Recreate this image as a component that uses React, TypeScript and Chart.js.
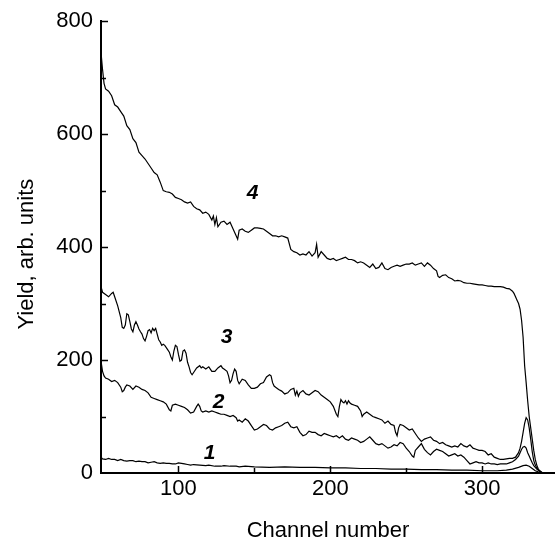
import React, { useEffect, useRef } from "react";
import { Chart, registerables } from "chart.js";

Chart.register(...registerables);

// ---- Data ----
const xTickLabels = [100, 200, 300];
const xMinorTicks = [150, 250];
const yTickLabels = [0, 200, 400, 600, 800];
const yMinorTicks = [100, 300, 500, 700];

const curve4Ch = [49,50,51,52,54,56,58,60,62,64,66,68,70,72,74,76,78,80,82,84,86,88,90,92,94,96,98,100,102,104,106,108,110,112,114,116,118,120,122,123,124,125,126,128,130,132,134,136,138,139,140,142,144,146,148,150,152,154,156,158,160,162,164,166,168,170,172,174,176,178,180,182,184,186,188,190,191,192,194,196,198,200,202,204,206,208,210,212,214,216,218,220,222,224,226,228,230,232,234,236,238,240,242,244,246,248,250,252,254,256,258,260,262,264,266,268,270,271,272,274,276,278,280,282,284,286,288,290,292,294,296,298,300,302,304,306,308,310,312,314,316,318,320,321,322,323,324,325,326,327,328,329,330,331,332,333,334,335,336,337,338,339,340,344,348];
const curve4Yield = [745,715,690,680,676,668,652,648,640,632,615,608,592,585,568,562,556,548,540,532,528,515,500,498,497,494,488,486,484,480,478,480,472,468,466,460,462,458,448,455,440,452,436,444,446,440,444,432,420,414,430,432,428,426,430,434,434,433,432,428,424,420,420,418,420,418,416,396,392,390,386,388,386,392,384,390,405,382,392,386,380,378,380,376,378,380,382,378,378,376,372,374,372,368,364,370,362,364,372,362,360,364,366,368,366,368,370,370,372,368,370,372,366,372,368,362,358,348,346,350,351,346,344,340,341,340,337,336,336,335,334,333,333,332,331,331,330,330,330,329,327,326,322,318,312,306,300,290,270,240,190,160,128,100,80,60,40,24,14,7,3,1,0,0,0];

const curve3Ch = [49,50,52,54,56,57,58,60,62,63,64,65,66,67,68,69,70,71,72,73,74,75,76,77,78,79,80,81,82,83,84,85,86,87,88,89,90,91,92,93,94,95,96,97,98,99,100,101,102,103,104,105,106,107,108,109,110,112,114,115,116,118,120,122,124,126,128,129,130,132,133,134,135,136,137,138,139,140,141,142,144,146,148,150,152,154,156,158,160,161,162,163,164,166,168,170,172,174,176,177,178,179,180,182,184,186,188,190,192,194,196,198,200,202,204,205,206,207,208,209,210,211,212,213,214,216,218,220,221,222,224,226,228,230,232,234,236,238,240,242,243,244,245,246,248,250,252,254,256,258,260,262,264,266,268,270,272,274,276,278,280,282,284,286,288,290,292,294,296,298,300,302,304,306,308,310,312,314,316,318,320,322,324,325,326,327,328,329,330,331,332,333,334,335,336,337,338,339,340,348];
const curve3Yield = [330,320,316,312,318,320,312,296,275,258,256,262,282,280,268,255,250,262,268,262,255,250,246,238,234,242,252,254,248,256,252,256,246,236,232,226,228,226,222,218,214,206,200,216,226,224,210,198,200,216,218,212,196,188,178,174,178,186,190,186,188,184,188,180,180,186,190,186,184,180,172,160,164,176,184,180,164,158,162,166,164,156,150,150,152,158,160,170,174,172,160,154,152,148,145,140,142,148,150,138,145,136,142,146,140,138,142,146,144,138,134,130,126,118,104,100,118,130,126,124,128,122,128,124,122,120,118,110,100,104,108,104,100,98,96,94,88,92,86,84,72,66,80,86,84,80,76,78,70,62,56,60,62,64,58,56,52,54,50,48,46,48,46,52,48,46,50,44,42,40,40,38,32,34,28,26,24,24,25,26,26,28,36,44,56,72,88,98,94,80,60,38,22,14,9,6,4,2,0,0];

const curve2Ch = [49,50,51,52,54,56,58,60,62,63,64,65,66,68,70,72,74,76,78,80,82,84,86,88,90,92,94,95,96,98,100,102,104,106,108,110,112,113,114,115,116,118,120,122,124,126,128,130,132,134,136,138,139,140,142,144,146,148,150,152,154,156,158,160,162,164,166,168,170,172,174,176,178,180,182,184,186,188,190,192,194,196,198,200,202,204,206,208,210,212,214,216,218,220,222,224,226,228,230,232,234,236,238,240,242,244,246,248,250,252,254,255,256,258,260,262,264,266,268,270,272,274,276,278,280,282,284,286,288,290,292,294,296,298,300,302,304,306,308,310,312,314,316,318,320,322,324,325,326,327,328,329,330,331,332,333,334,335,336,337,338,339,340,348];
const curve2Yield = [198,180,172,168,166,162,164,160,152,144,146,152,156,154,148,154,152,148,146,142,134,132,130,128,126,122,112,110,120,122,120,118,116,112,106,108,118,122,118,110,108,110,108,110,108,106,104,104,102,100,102,98,92,94,90,96,92,84,76,78,82,86,84,78,76,80,82,84,88,90,82,80,82,72,66,68,74,72,72,68,66,70,68,66,64,66,62,66,60,58,62,60,58,54,56,60,64,58,52,50,52,48,44,46,50,48,54,52,44,38,30,28,40,46,52,42,36,32,38,42,40,38,34,30,32,34,30,32,28,22,16,18,20,18,18,16,18,16,16,15,16,16,16,18,20,24,30,36,42,46,47,44,36,30,24,18,13,10,7,5,3,1,0,0];

const curve1Ch = [49,50,52,54,56,58,60,62,64,66,68,70,72,74,76,78,80,82,84,86,88,90,92,94,96,98,100,102,104,106,108,110,114,118,120,124,128,130,134,138,140,144,150,160,170,180,190,200,210,220,230,240,250,260,270,280,290,300,310,316,320,324,327,329,331,333,335,337,339,340,348];
const curve1Yield = [28,25,24,26,24,24,22,24,22,21,22,22,20,21,20,20,18,19,20,18,17,18,17,17,16,16,18,17,16,15,14,15,14,13,14,12,12,13,12,12,11,12,11,10,11,10,10,9,9,8,8,7,7,6,6,5,5,4,4,5,7,10,13,14,12,8,4,2,1,0,0];

const curveLabels = ["1", "2", "3", "4"];
const curveLabelCh = [120.5, 126.4, 131.7, 148.8];
const curveLabelYield = [35, 126, 241, 496];

const yTitle = "Yield, arb. units";
const xTitle = "Channel number";

const FONT = "'Liberation Sans', Arial, Helvetica, sans-serif";

function pairs(xs: number[], ys: number[]) {
  return xs.map((x, i) => ({ x, y: ys[i] }));
}

const innerTicksPlugin = {
  id: "innerTicks",
  afterDraw(chart: any) {
    const { ctx, chartArea, scales } = chart;
    const xs = scales.x;
    const ys = scales.y;
    ctx.save();
    ctx.strokeStyle = "#000";
    ctx.lineWidth = 1.5;
    ctx.beginPath();
    const bottom = chartArea.bottom;
    const left = chartArea.left;
    xTickLabels.forEach((v) => {
      const px = Math.round(xs.getPixelForValue(v)) + 0.5;
      ctx.moveTo(px, bottom);
      ctx.lineTo(px, bottom - 7);
    });
    xMinorTicks.forEach((v) => {
      const px = Math.round(xs.getPixelForValue(v)) + 0.5;
      ctx.moveTo(px, bottom);
      ctx.lineTo(px, bottom - 5);
    });
    yTickLabels.forEach((v) => {
      if (v === 0) return;
      const py = Math.round(ys.getPixelForValue(v)) + 0.5;
      ctx.moveTo(left, py);
      ctx.lineTo(left + 7, py);
    });
    yMinorTicks.forEach((v) => {
      const py = Math.round(ys.getPixelForValue(v)) + 0.5;
      ctx.moveTo(left, py);
      ctx.lineTo(left + 5, py);
    });
    ctx.stroke();

    ctx.fillStyle = "#000";
    ctx.font = `italic bold 21px ${FONT}`;
    ctx.textAlign = "center";
    ctx.textBaseline = "middle";
    curveLabels.forEach((t, i) => {
      ctx.fillText(t, xs.getPixelForValue(curveLabelCh[i]), ys.getPixelForValue(curveLabelYield[i]));
    });

    // Y axis title (slightly below the plot's middle, as in the reference)
    ctx.font = `22px ${FONT}`;
    ctx.translate(27, (chartArea.top + chartArea.bottom) / 2 + 7);
    ctx.rotate(-Math.PI / 2);
    ctx.fillText(yTitle, 0, 0);
    ctx.restore();
  },
};

export default function App() {
  const ref = useRef<HTMLCanvasElement | null>(null);

  useEffect(() => {
    document.body.style.margin = "0";
    const canvas = ref.current;
    if (!canvas) return;
    const line = (xs: number[], ys: number[]) => ({
      data: pairs(xs, ys),
      borderColor: "#000",
      borderWidth: 1.2,
      pointRadius: 0,
      tension: 0,
      fill: false,
    });
    const chart = new Chart(canvas, {
      type: "line",
      data: {
        datasets: [
          line(curve1Ch, curve1Yield),
          line(curve2Ch, curve2Yield),
          line(curve3Ch, curve3Yield),
          line(curve4Ch, curve4Yield),
        ],
      },
      options: {
        animation: false,
        responsive: false,
        events: [],
        layout: { padding: { top: 21, right: 0, bottom: 0, left: 0 } },
        plugins: { legend: { display: false }, tooltip: { enabled: false } },
        scales: {
          x: {
            type: "linear",
            min: 49,
            max: 348,
            afterBuildTicks: (s: any) => {
              s.ticks = xTickLabels.map((v) => ({ value: v }));
            },
            afterFit: (s: any) => {
              s.height = 69;
            },
            grid: { display: true, drawOnChartArea: false, drawTicks: false },
            border: { display: true, color: "#000", width: 2 },
            ticks: {
              color: "#000",
              font: { family: FONT, size: 22 },
              padding: 3,
              maxRotation: 0,
            },
            title: {
              display: true,
              text: xTitle,
              color: "#000",
              font: { family: FONT, size: 22, lineHeight: 1 },
              padding: { top: 0, bottom: 0 },
            },
          },
          y: {
            type: "linear",
            min: 0,
            max: 800,
            afterBuildTicks: (s: any) => {
              s.ticks = yTickLabels.map((v) => ({ value: v }));
            },
            afterFit: (s: any) => {
              s.width = 101;
            },
            grid: { display: true, drawOnChartArea: false, drawTicks: false },
            border: { display: true, color: "#000", width: 2 },
            ticks: {
              color: "#000",
              font: { family: FONT, size: 22 },
              padding: 8,
            },
            title: { display: false },
          },
        },
      },
      plugins: [innerTicksPlugin],
    } as any);
    return () => chart.destroy();
  }, []);

  return (
    <div style={{ width: 555, height: 542, background: "#fff" }}>
      <canvas ref={ref} width={555} height={542} style={{ display: "block", width: 555, height: 542 }} />
    </div>
  );
}
